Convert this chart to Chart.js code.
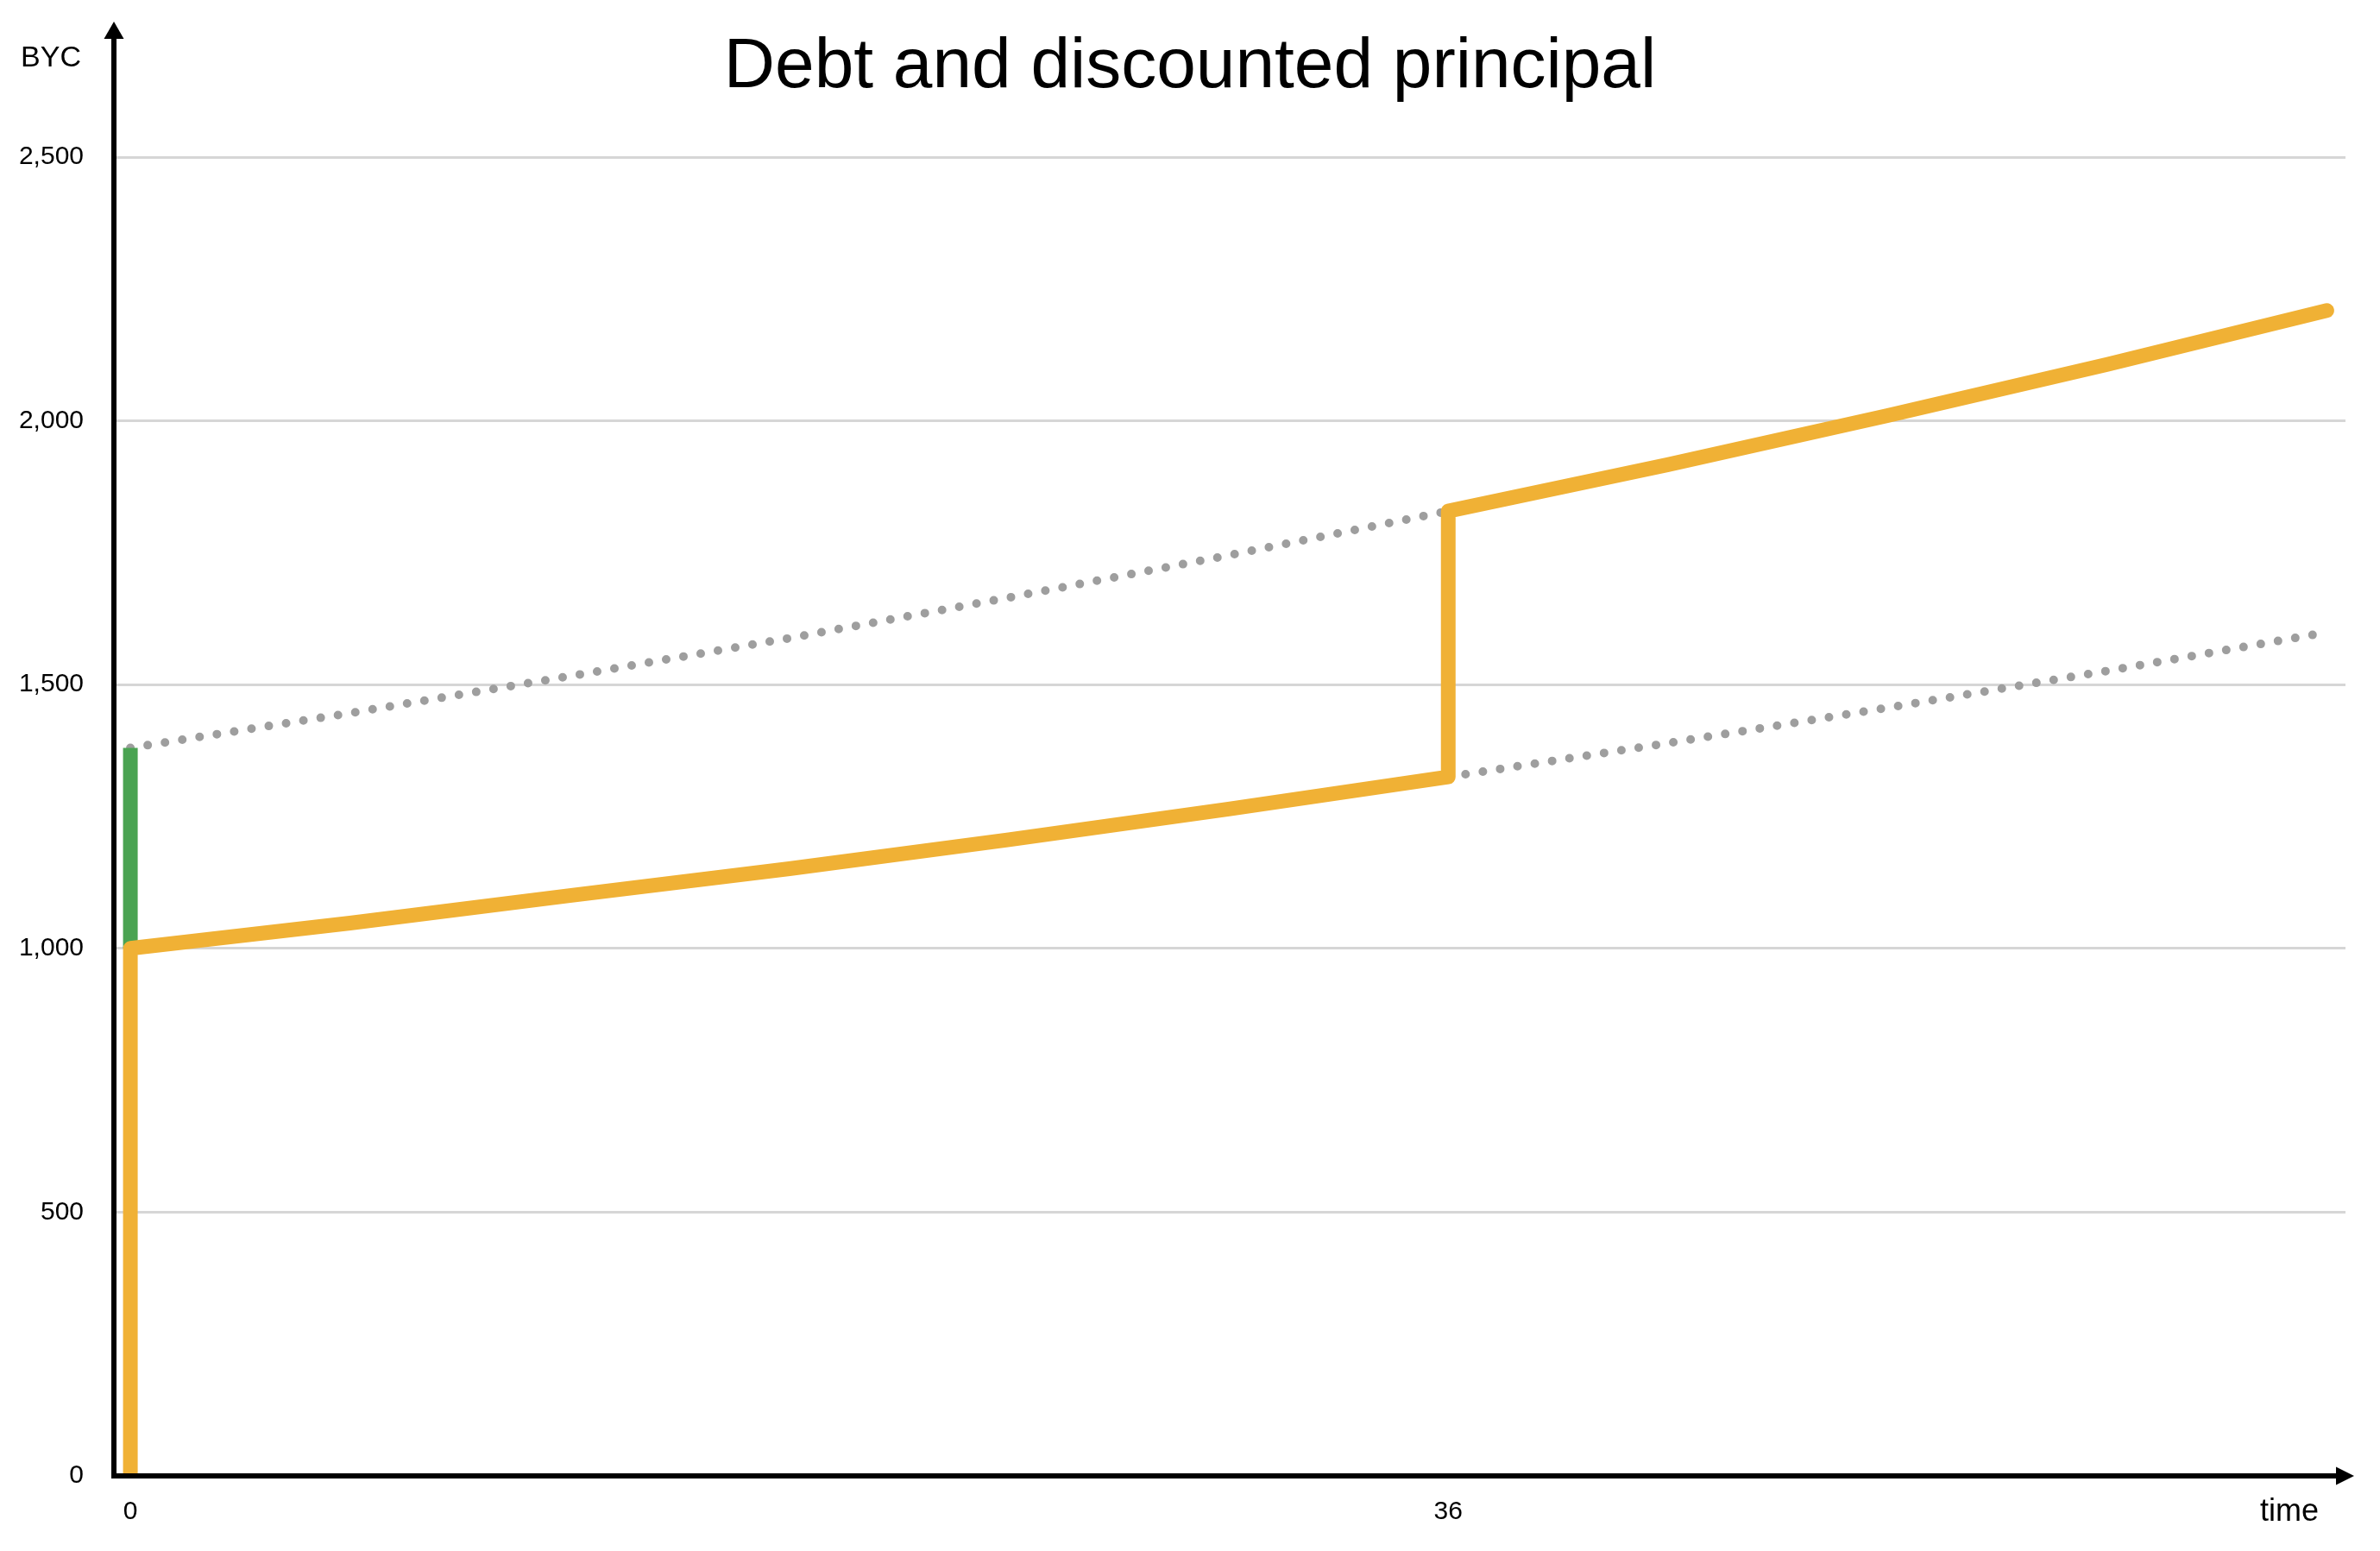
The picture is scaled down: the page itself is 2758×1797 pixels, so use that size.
<!DOCTYPE html>
<html lang="en">
<head>
    <meta charset="UTF-8">
    <title>Debt and discounted principal</title>
    <script src="https://cdn.jsdelivr.net/npm/chart.js"></script>
    <style>
        body {
            margin: 0;
            padding: 0;
            background-color: #ffffff;
        }

        .chart-container {
            width: 2758px;
            height: 1797px;
            position: relative;
        }
    </style>
</head>
<body>

    <div class="chart-container">
        <canvas id="debtChart"></canvas>
    </div>

    <script>
        // Values (time in periods, amounts in BYC)
        const xTicks = [0, 36];

        const debtTime = [0, 0, 6, 12, 18, 24, 30, 36, 36, 42, 48, 54, 60];
        const debtValue = [0, 1000, 1048, 1100, 1151, 1206, 1264, 1325, 1829, 1917, 2010, 2107, 2209];

        const premiumTime = [0, 0];
        const premiumValue = [1000, 1380];

        const upperTime = [0, 6, 12, 18, 24, 30, 36];
        const upperValue = [1380, 1446, 1516, 1588, 1665, 1745, 1829];

        const lowerTime = [36, 42, 48, 54, 60];
        const lowerValue = [1325, 1389, 1456, 1526, 1599];

        const chartTitle = 'Debt and discounted principal';

        const orange = '#F0B135';
        const green = '#4AA352';
        const dotGray = '#9E9E9E';

        function points(xs, ys) {
            return xs.map((x, i) => ({ x: x, y: ys[i] }));
        }

        // Title centred on the whole canvas, arrowed axes and the axis captions
        const arrowAxes = {
            id: 'arrowAxes',
            afterDraw(chart) {
                const { ctx, width, chartArea: { left, right, top, bottom } } = chart;
                ctx.save();
                ctx.strokeStyle = '#000';
                ctx.fillStyle = '#000';
                ctx.lineWidth = 6;

                // y axis
                const tipY = top - 157;
                ctx.beginPath();
                ctx.moveTo(left, bottom + 3);
                ctx.lineTo(left, tipY + 18);
                ctx.stroke();
                ctx.beginPath();
                ctx.moveTo(left, tipY);
                ctx.lineTo(left - 11.5, tipY + 20);
                ctx.lineTo(left + 11.5, tipY + 20);
                ctx.closePath();
                ctx.fill();

                // x axis
                const tipX = right + 10;
                ctx.beginPath();
                ctx.moveTo(left - 3, bottom);
                ctx.lineTo(tipX - 19, bottom);
                ctx.stroke();
                ctx.beginPath();
                ctx.moveTo(tipX, bottom);
                ctx.lineTo(tipX - 21, bottom - 10.5);
                ctx.lineTo(tipX - 21, bottom + 10.5);
                ctx.closePath();
                ctx.fill();

                ctx.textAlign = 'center';
                ctx.textBaseline = 'middle';
                ctx.font = '82px "Liberation Sans", Arial, sans-serif';
                ctx.fillText(chartTitle, width / 2, top - 104);

                ctx.textBaseline = 'alphabetic';
                ctx.font = '34px "Liberation Sans", Arial, sans-serif';
                ctx.fillText('BYC', left - 73, top - 105);
                ctx.font = '36px "Liberation Sans", Arial, sans-serif';
                ctx.fillText('time', right - 65, bottom + 52);
                ctx.restore();
            }
        };

        Chart.defaults.font.family = '"Liberation Sans", Arial, sans-serif';
        Chart.defaults.color = '#000';

        const ctx = document.getElementById('debtChart').getContext('2d');
        new Chart(ctx, {
            type: 'line',
            data: {
                datasets: [
                    {
                        label: 'Debt',
                        data: points(debtTime, debtValue),
                        borderColor: orange,
                        borderWidth: 17,
                        borderCapStyle: 'round',
                        borderJoinStyle: 'round',
                        pointRadius: 0,
                        tension: 0,
                        clip: { left: 20, top: 20, right: 20, bottom: 0 }
                    },
                    {
                        label: 'Premium',
                        data: points(premiumTime, premiumValue),
                        borderColor: green,
                        borderWidth: 17,
                        borderCapStyle: 'butt',
                        pointRadius: 0,
                        clip: { left: 20, top: 20, right: 20, bottom: 0 }
                    },
                    {
                        label: 'Upper path',
                        data: points(upperTime, upperValue),
                        borderColor: dotGray,
                        borderWidth: 10,
                        borderDash: [0, 20.3],
                        borderCapStyle: 'round',
                        pointRadius: 0,
                        tension: 0
                    },
                    {
                        label: 'Lower path',
                        data: points(lowerTime, lowerValue),
                        borderColor: dotGray,
                        borderWidth: 10,
                        borderDash: [0, 20.3],
                        borderCapStyle: 'round',
                        pointRadius: 0,
                        tension: 0
                    }
                ]
            },
            options: {
                responsive: true,
                maintainAspectRatio: false,
                animation: false,
                layout: {
                    padding: { left: 0, right: 40, top: 182, bottom: 0 }
                },
                scales: {
                    x: {
                        type: 'linear',
                        min: -0.45,
                        max: 60.51,
                        afterBuildTicks: (scale) => {
                            scale.ticks = xTicks.map(v => ({ value: v }));
                        },
                        afterFit: (scale) => {
                            scale.height = 87;
                        },
                        grid: { display: false, drawTicks: false },
                        border: { display: false },
                        ticks: {
                            padding: 24,
                            maxRotation: 0,
                            font: { size: 30 }
                        }
                    },
                    y: {
                        min: 0,
                        max: 2500,
                        afterFit: (scale) => {
                            scale.width = 132;
                        },
                        grid: {
                            color: '#D6D6D6',
                            lineWidth: 3,
                            drawTicks: false
                        },
                        border: { display: false },
                        ticks: {
                            stepSize: 500,
                            padding: 35,
                            font: { size: 30 }
                        }
                    }
                },
                plugins: {
                    legend: { display: false },
                    tooltip: { enabled: false },
                    title: { display: false }
                }
            },
            plugins: [arrowAxes]
        });
    </script>

</body>
</html>
